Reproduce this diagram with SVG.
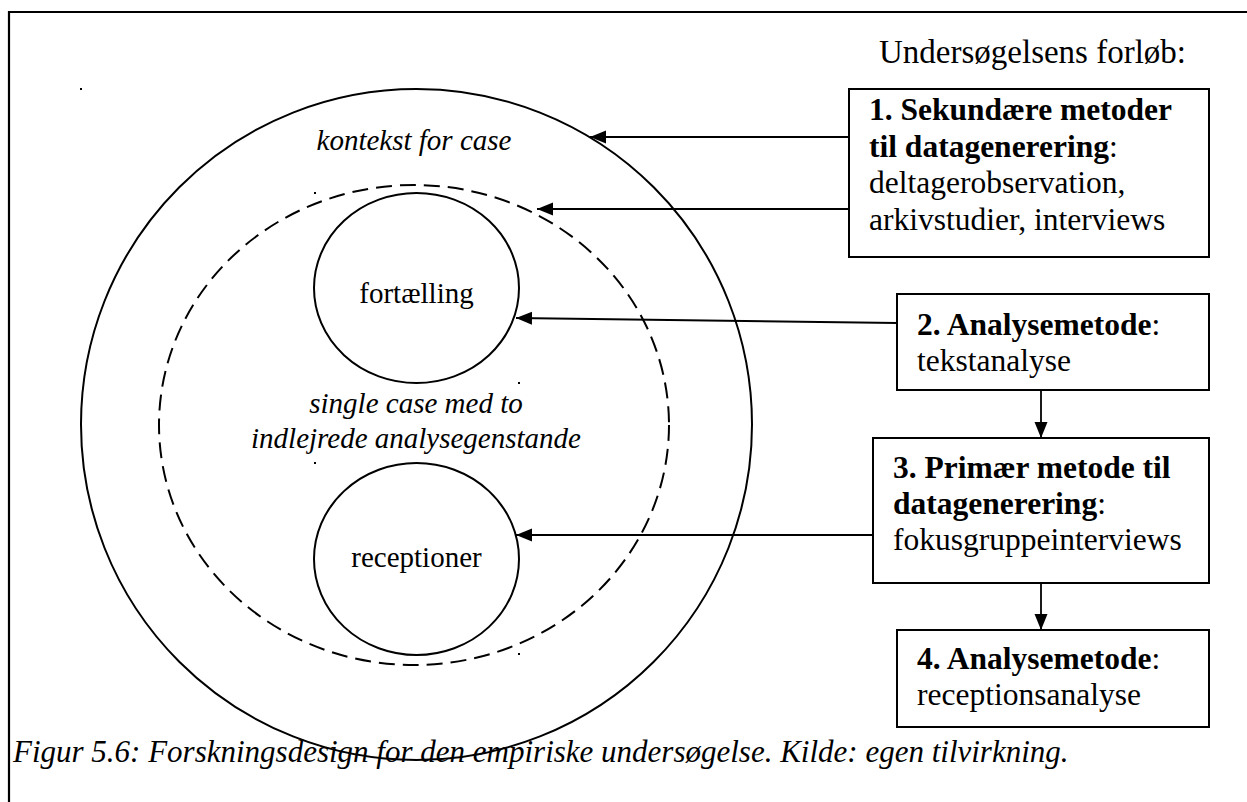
<svg xmlns="http://www.w3.org/2000/svg" width="1247" height="802" viewBox="0 0 1247 802">
  <style>
    .serif { font-family: "Liberation Serif", "Times New Roman", serif; fill: #000; }
    .box { fill: #fff; stroke: #000; stroke-width: 2; }
    .ring { fill: none; stroke: #000; stroke-width: 2; }
    .dashed { fill: none; stroke: #000; stroke-width: 2; stroke-dasharray: 16 8; }
    .conn { fill: none; stroke: #000; stroke-width: 1.8; marker-end: url(#arrow); }
    .t-box { font-size: 31.5px; }
    .t-inner { font-size: 29px; }
    .it { font-style: italic; }
    .b { font-weight: bold; }
    .mark { fill: #000; }
  </style>
  <defs>
    <marker id="arrow" markerUnits="userSpaceOnUse" markerWidth="17" markerHeight="14" refX="16" refY="6.5" orient="auto">
      <path d="M0,0 L16,6.5 L0,13 z" fill="#000"/>
    </marker>
  </defs>

  <rect width="1247" height="802" fill="#fff"/>

  <!-- page frame: top and left rules -->
  <path d="M9,802 V12 H1247" fill="none" stroke="#000" stroke-width="2.2"/>

  <!-- outer context circle -->
  <g id="context">
    <circle class="ring" cx="416.5" cy="424.5" r="335.5"/>
    <text class="serif t-inner it" x="414" y="150" text-anchor="middle">kontekst for case</text>
  </g>

  <!-- embedded case (dashed) -->
  <g id="single-case">
    <ellipse class="dashed" cx="414" cy="425" rx="255" ry="240"/>
    <text class="serif t-inner it" x="416" y="413" text-anchor="middle">single case med to</text>
    <text class="serif t-inner it" x="416" y="448" text-anchor="middle">indlejrede analysegenstande</text>
  </g>

  <g id="fortaelling">
    <ellipse class="ring" cx="416.5" cy="288" rx="102.5" ry="95"/>
    <text class="serif t-inner" x="416.5" y="303" text-anchor="middle">fortælling</text>
  </g>

  <g id="receptioner">
    <ellipse class="ring" cx="416.5" cy="559" rx="102.5" ry="96"/>
    <text class="serif t-inner" x="416.5" y="567" text-anchor="middle">receptioner</text>
  </g>

  <!-- small anchor marks -->
  <g id="marks">
    <rect class="mark" x="80" y="88" width="2" height="2"/>
    <rect class="mark" x="314" y="192" width="2" height="2"/>
    <rect class="mark" x="518" y="382" width="2" height="2"/>
    <rect class="mark" x="314" y="462" width="2" height="2"/>
    <rect class="mark" x="518" y="653" width="2" height="2"/>
  </g>

  <text id="title" class="serif" x="879" y="63" font-size="33">Undersøgelsens forløb:</text>

  <g id="step1">
    <rect class="box" x="849" y="89" width="360" height="168"/>
    <text class="serif t-box" x="869" y="120"><tspan class="b">1. Sekundære metoder</tspan></text>
    <text class="serif t-box" x="869" y="157"><tspan class="b">til datagenerering</tspan>:</text>
    <text class="serif t-box" x="869" y="193">deltagerobservation,</text>
    <text class="serif t-box" x="869" y="230">arkivstudier, interviews</text>
  </g>

  <g id="step2">
    <rect class="box" x="897" y="294" width="312" height="96"/>
    <text class="serif t-box" x="917" y="335"><tspan class="b">2. Analysemetode</tspan>:</text>
    <text class="serif t-box" x="917" y="371">tekstanalyse</text>
  </g>

  <g id="step3">
    <rect class="box" x="873" y="438" width="336" height="145"/>
    <text class="serif t-box" x="893" y="478"><tspan class="b">3. Primær metode til</tspan></text>
    <text class="serif t-box" x="893" y="514"><tspan class="b">datagenerering</tspan>:</text>
    <text class="serif t-box" x="893" y="550">fokusgruppeinterviews</text>
  </g>

  <g id="step4">
    <rect class="box" x="897" y="630" width="312" height="97"/>
    <text class="serif t-box" x="917" y="669"><tspan class="b">4. Analysemetode</tspan>:</text>
    <text class="serif t-box" x="917" y="705">receptionsanalyse</text>
  </g>

  <g id="connectors">
    <line class="conn" x1="849" y1="137" x2="590" y2="137"/>
    <line class="conn" x1="849" y1="209" x2="537" y2="209"/>
    <line class="conn" x1="897" y1="323" x2="516" y2="318"/>
    <line class="conn" x1="873" y1="535" x2="516" y2="535"/>
    <line class="conn" x1="1041" y1="390" x2="1041" y2="438"/>
    <line class="conn" x1="1041" y1="583" x2="1041" y2="630"/>
  </g>

  <text id="caption" class="serif it" x="13" y="762" font-size="31">Figur 5.6: Forskningsdesign for den empiriske undersøgelse. Kilde: egen tilvirkning.</text>
</svg>
